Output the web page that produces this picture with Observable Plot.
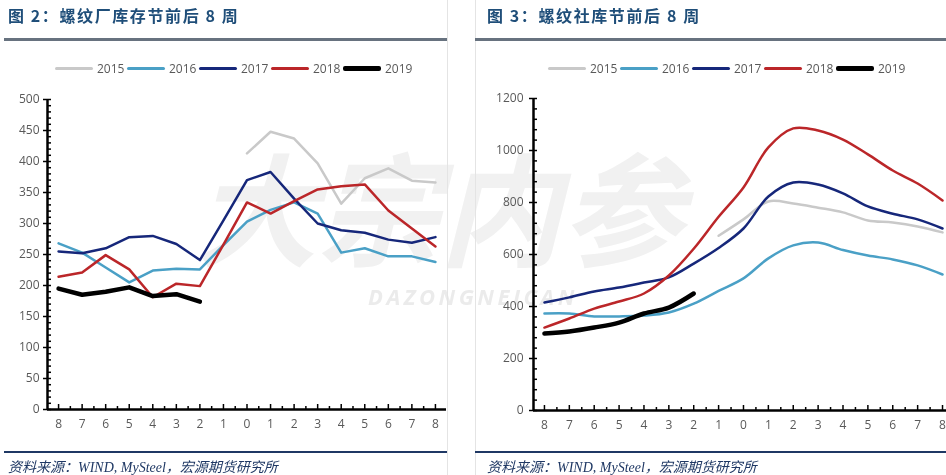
<!DOCTYPE html>
<html><head><meta charset="utf-8">
<script src="https://cdn.jsdelivr.net/npm/d3@7"></script>
<script src="https://cdn.jsdelivr.net/npm/@observablehq/plot@0.6"></script>
<style>
body{margin:0;background:#fff;}
#page{position:relative;width:946px;height:475px;overflow:hidden;background:#fff;font-family:"Open Sans",sans-serif;}
.title{position:absolute;top:3px;font-family:"Noto Sans CJK SC",sans-serif;font-weight:bold;font-size:16px;color:#1f4e79;letter-spacing:1.6px;white-space:nowrap;}
.hr{position:absolute;top:38px;height:3px;background:#67727f;}
.fl{position:absolute;top:451px;height:1.5px;background:#1f3864;}
.vl{position:absolute;top:0;width:1px;height:475px;background:#e4e4e4;}
.foot{position:absolute;top:456px;font-family:"Liberation Serif","Noto Sans CJK SC",serif;font-style:italic;font-size:14px;color:#1f3864;white-space:nowrap;}
.legend{position:absolute;top:60px;display:flex;align-items:center;font-size:12px;color:#595959;}
.legend .sw{width:38px;margin-right:4px;border-radius:2px;}
.legend .tx{margin-right:3px;width:27px;}
.chart{position:absolute;top:88px;}
#wm{position:absolute;left:0;top:0;}
</style></head>
<body><div id="page">
<canvas id="wm" width="946" height="475"></canvas>
<div class="vl" style="left:447px"></div>
<div class="vl" style="left:475px"></div>
<div class="title" style="left:8px">图 2：螺纹厂库存节前后 8 周</div>
<div class="title" style="left:487px">图 3：螺纹社库节前后 8 周</div>
<div class="hr" style="left:4px;width:443px"></div>
<div class="hr" style="left:475px;width:471px"></div>
<div class="legend" id="leg1" style="left:55px"></div>
<div class="legend" id="leg2" style="left:548px"></div>
<div class="chart" id="c1" style="left:0px"></div>
<div class="chart" id="c2" style="left:473px"></div>
<div class="fl" style="left:4px;width:443px"></div>
<div class="fl" style="left:475px;width:471px"></div>
<div class="foot" style="left:8px">资料来源：WIND, MySteel，宏源期货研究所</div>
<div class="foot" style="left:487px">资料来源：WIND, MySteel，宏源期货研究所</div>
</div>
<script>
const weekLabels = ["8","7","6","5","4","3","2","1","0","1","2","3","4","5","6","7","8"];
const seriesNames = ["2015","2016","2017","2018","2019"];
const seriesColors = ["#c9c9c9","#4aa0c6","#16277a","#bb2629","#000000"];
const seriesWidths = [2.5,2.5,2.5,2.5,4.5];

// 螺纹厂库存 (left)
const f2015 = [null,null,null,null,null,null,null,null,413,448,437,397,332,373,389,369,366];
const f2016 = [268,253,229,205,224,227,226,265,303,322,334,316,253,260,247,247,238];
const f2017 = [255,252,260,278,280,267,241,305,370,383,340,300,289,285,274,269,278];
const f2018 = [214,221,249,226,181,203,199,266,334,316,336,355,360,363,321,292,263];
const f2019 = [195,185,190,197,183,186,174,null,null,null,null,null,null,null,null,null,null];
const leftTicks = [0,50,100,150,200,250,300,350,400,450,500];

// 螺纹社库 (right)
const s2015 = [null,null,null,null,null,null,null,672,735,804,796,780,762,731,723,708,685];
const s2016 = [373,373,362,362,365,377,411,460,508,585,635,646,617,596,581,558,523];
const s2017 = [415,435,458,473,492,512,565,625,700,823,877,869,835,785,757,735,700];
const s2018 = [319,354,392,419,450,519,622,745,858,1012,1085,1077,1042,985,923,873,808];
const s2019 = [296,304,319,338,373,396,450,null,null,null,null,null,null,null,null,null,null];
const rightTicks = [0,200,400,600,800,1000,1200];

// faint watermark logo (graphic, drawn behind the charts)
const wmLogo = "大宗内参", wmWord = "DAZONGNEICAN";
(function(){
  const ctx = document.getElementById("wm").getContext("2d");
  ctx.save();
  ctx.fillStyle = "#f1f1f1";
  ctx.font = "italic bold 122px 'Noto Sans CJK SC'";
  ctx.textBaseline = "top";
  ctx.fillText(wmLogo, 195, 150);
  ctx.fillStyle = "#ebebeb";
  ctx.font = "italic bold 22px 'Open Sans'";
  ctx.letterSpacing = "3.5px";
  ctx.fillText(wmWord, 368, 288);
  ctx.restore();
})();

function legend(id){
  const el = document.getElementById(id);
  seriesNames.forEach((s,k)=>{
    const sw = document.createElement("div"); sw.className="sw";
    sw.style.height = seriesWidths[k]+"px"; sw.style.background = seriesColors[k];
    const tx = document.createElement("div"); tx.className="tx"; tx.textContent = s;
    el.appendChild(sw); el.appendChild(tx);
  });
}
legend("leg1"); legend("leg2");

function chart(opts){
  const {series, yDomain, major, minor, xDomain, width, height, mL, mR, mT, mB, curve, pad} = opts;
  const idx = d3.range(weekLabels.length);
  const marks = [];
  series.forEach((vals,k)=>{
    const rows = idx.filter(i=>vals[i]!=null).map(i=>({i, v: vals[i]}));
    marks.push(Plot.line(rows,{x:"i", y:"v", stroke: seriesColors[k], strokeWidth: seriesWidths[k], curve, strokeLinejoin:"round", strokeLinecap:"round"}));
  });
  marks.push(Plot.axisY({ticks: minor, tickSize: 4, dx: 4, text: null, label: null, stroke:"#000", strokeWidth:1.5}));
  marks.push(Plot.axisY({ticks: major, tickSize: 4, tickPadding: pad, label: null, tickFormat: d3.format("d"), stroke:"#000", strokeWidth:1.5, fill:"#595959", fontSize: 12}));
  marks.push(Plot.axisX({ticks: idx, tickSize: 5, dy: -5, text: null, label: null, stroke:"#000", strokeWidth:1.5}));
  marks.push(Plot.axisX({ticks: idx.slice(0,-1).map(i=>i+0.5), tickSize: 3, dy: -3, text: null, label: null, stroke:"#000", strokeWidth:1.5}));
  marks.push(Plot.axisX({ticks: idx, tickSize: 0, tickPadding: 10, label: null, tickFormat: i=>weekLabels[i], fill:"#595959", fontSize: 12}));
  marks.push(Plot.ruleY([yDomain[0]], {stroke:"#000", strokeWidth:2.5}));
  marks.push(Plot.ruleX([xDomain[0]], {stroke:"#000", strokeWidth:2.5}));
  return Plot.plot({
    width, height, marginLeft: mL, marginRight: mR, marginTop: mT, marginBottom: mB,
    x: {domain: xDomain, axis: null},
    y: {domain: yDomain, axis: null},
    style: {background:"transparent", fontFamily:"'Open Sans', sans-serif", fontSize:"12px", overflow:"visible"},
    marks
  });
}

document.getElementById("c1").appendChild(chart({
  series:[f2015,f2016,f2017,f2018,f2019], yDomain:[0,500], major:leftTicks, minor:d3.range(0,501,10),
  xDomain:[-0.47,16.47], width:447, height:352, mL:47, mR:1, mT:11, mB:31, curve:"linear", pad:4
}));
document.getElementById("c2").appendChild(chart({
  series:[s2015,s2016,s2017,s2018,s2019], yDomain:[0,1200], major:rightTicks, minor:d3.range(0,1201,40),
  xDomain:[-0.44,16.16], width:473, height:352, mL:60, mR:0, mT:10, mB:30, curve:"catmull-rom", pad:6
}));
</script>
</body></html>
